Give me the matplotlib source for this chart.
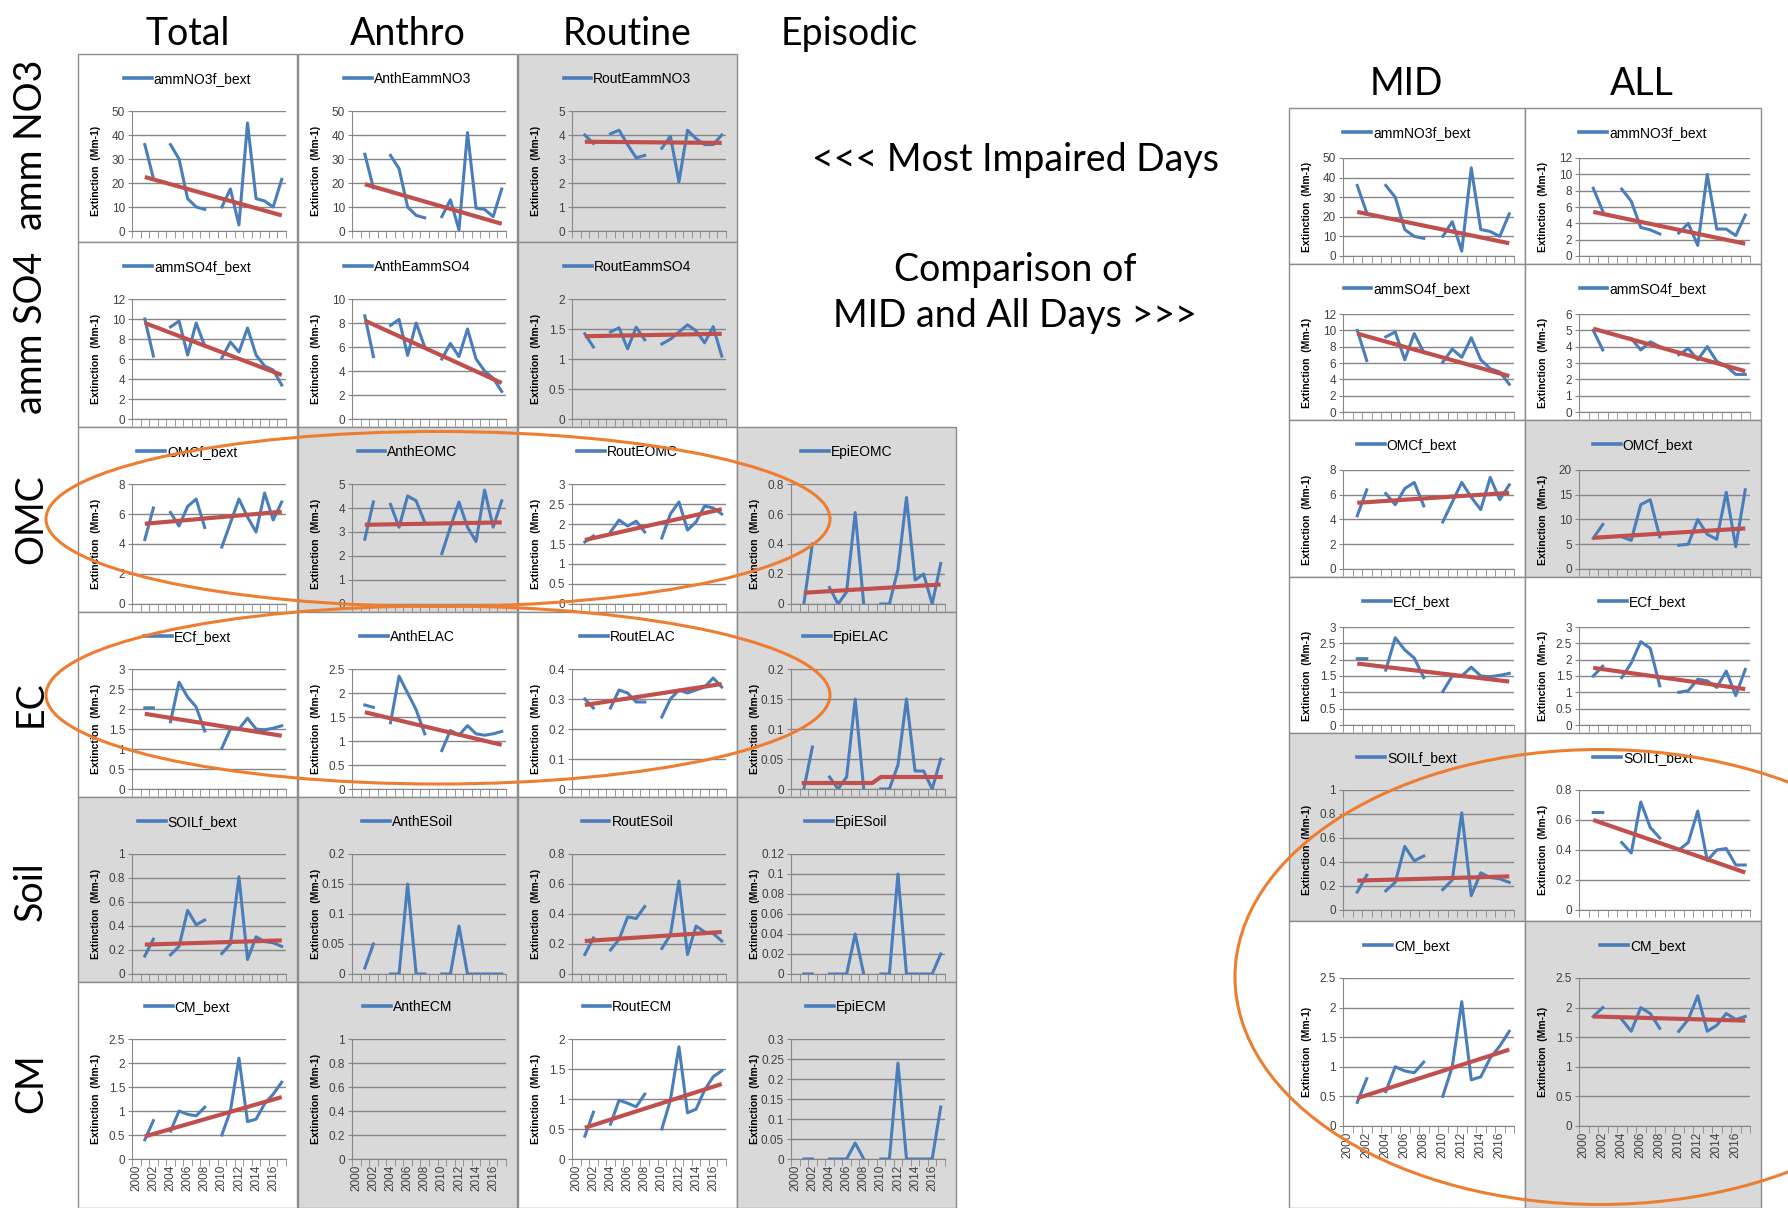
import numpy as np
import matplotlib
matplotlib.use('Agg')
import matplotlib.pyplot as plt
from matplotlib.patches import Rectangle, Ellipse
from matplotlib.lines import Line2D

plt.rcParams['font.family'] = ['Liberation Sans Narrow', 'Liberation Sans', 'DejaVu Sans']

nan = np.nan
# values for 2001..2017 (no data for 2003 and 2009)
years = np.arange(2001, 2018)

# most impaired days, by source type
NO3_tot = [36, 22, nan, 36, 30, 13.5, 10, 9, nan, 10, 17.5, 2.5, 45, 13.5, 12.5, 10, 21.5]
NO3_anth = [32, 18, nan, 31.5, 26, 10, 6.5, 5.5, nan, 6, 13, 0.5, 41, 9.5, 9, 6, 17.5]
NO3_rout = [4.0, 3.65, nan, 4.05, 4.2, 3.6, 3.05, 3.15, nan, 3.45, 3.95, 2.05, 4.2, 3.85, 3.6, 3.6, 4.0]
SO4_tot = [10, 6.3, nan, 9.2, 9.8, 6.4, 9.6, 7.3, nan, 6.1, 7.7, 6.7, 9.1, 6.4, 5.3, 4.9, 3.4]
SO4_anth = [8.6, 5.2, nan, 7.8, 8.3, 5.3, 8.0, 6.0, nan, 5.0, 6.3, 5.2, 7.5, 5.0, 4.0, 3.4, 2.3]
SO4_rout = [1.42, 1.2, nan, 1.45, 1.52, 1.17, 1.53, 1.32, nan, 1.25, 1.33, 1.45, 1.57, 1.47, 1.27, 1.54, 1.05]
OMC_tot = [4.3, 6.4, nan, 6.1, 5.2, 6.5, 7.0, 5.1, nan, 3.8, 5.4, 7.0, 5.8, 4.8, 7.4, 5.6, 6.8]
OMC_anth = [2.7, 4.25, nan, 4.15, 3.2, 4.5, 4.3, 3.4, nan, 2.1, 3.2, 4.25, 3.2, 2.6, 4.75, 3.2, 4.3]
OMC_rout = [1.55, 1.7, nan, 1.8, 2.1, 1.95, 2.07, 1.8, nan, 1.65, 2.25, 2.55, 1.85, 2.05, 2.45, 2.4, 2.25]
OMC_epi = [0, 0.4, nan, 0.11, 0, 0.08, 0.61, 0, nan, 0, 0, 0.23, 0.71, 0.16, 0.2, 0, 0.27]
EC_tot = [2.03, 2.03, nan, 1.68, 2.67, 2.3, 2.05, 1.45, nan, 1.02, 1.5, 1.5, 1.77, 1.5, 1.48, 1.52, 1.58]
EC_anth = [1.75, 1.7, nan, 1.38, 2.35, 2.0, 1.65, 1.15, nan, 0.8, 1.22, 1.12, 1.32, 1.15, 1.12, 1.15, 1.2]
EC_rout = [0.30, 0.27, nan, 0.27, 0.33, 0.32, 0.29, 0.29, nan, 0.24, 0.30, 0.33, 0.32, 0.33, 0.34, 0.37, 0.34]
EC_epi = [0, 0.07, nan, 0.02, 0, 0.02, 0.15, 0, nan, 0, 0, 0.04, 0.15, 0.03, 0.03, 0, 0.05]
SOIL_tot = [0.15, 0.29, nan, 0.16, 0.23, 0.53, 0.41, 0.45, nan, 0.17, 0.25, 0.81, 0.12, 0.31, 0.27, 0.26, 0.23]
SOIL_anth = [0.01, 0.05, nan, 0, 0, 0.15, 0, 0, nan, 0, 0, 0.08, 0, 0, 0, 0, 0]
SOIL_rout = [0.13, 0.24, nan, 0.16, 0.23, 0.38, 0.37, 0.45, nan, 0.17, 0.26, 0.62, 0.13, 0.32, 0.28, 0.27, 0.22]
SOIL_epi = [0, 0, nan, 0, 0, 0, 0.04, 0, nan, 0, 0, 0.10, 0, 0, 0, 0, 0.02]
CM_tot = [0.4, 0.8, nan, 0.58, 1.0, 0.93, 0.9, 1.08, nan, 0.5, 1.0, 2.1, 0.78, 0.83, 1.15, 1.35, 1.6]
CM_anth = [nan] * 17
CM_rout = [0.38, 0.78, nan, 0.58, 0.98, 0.93, 0.87, 1.08, nan, 0.5, 0.98, 1.87, 0.77, 0.83, 1.15, 1.37, 1.47]
CM_epi = [0, 0, nan, 0, 0, 0, 0.04, 0, nan, 0, 0, 0.24, 0, 0, 0, 0, 0.13]

# all days
NO3_all = [8.3, 5.5, nan, 8.2, 6.7, 3.5, 3.2, 2.7, nan, 2.8, 4.0, 1.3, 10.0, 3.3, 3.3, 2.5, 5.0]
SO4_all = [5.0, 3.8, nan, 4.6, 4.5, 3.8, 4.3, 4.0, nan, 3.5, 3.9, 3.2, 4.0, 3.1, 2.8, 2.3, 2.3]
OMC_all = [6.2, 9.0, nan, 6.5, 5.8, 13.0, 14.0, 6.5, nan, 4.8, 5.0, 10.0, 7.0, 6.0, 15.5, 4.5, 16.0]
EC_all = [1.5, 1.8, nan, 1.45, 1.9, 2.55, 2.35, 1.2, nan, 1.0, 1.05, 1.4, 1.35, 1.15, 1.65, 0.9, 1.7]
SOIL_all = [0.65, 0.65, nan, 0.45, 0.38, 0.72, 0.55, 0.48, nan, 0.4, 0.45, 0.66, 0.33, 0.4, 0.41, 0.3, 0.3]
CM_all = [1.85, 2.0, nan, 1.8, 1.6, 2.0, 1.9, 1.65, nan, 1.6, 1.8, 2.2, 1.6, 1.7, 1.9, 1.8, 1.85]

# trend lines: value at 2001 and 2017, or one value per year
tr = {
    'NO3_tot': [22.5, 6.5], 'NO3_anth': [19.5, 3.0], 'NO3_rout': [3.72, 3.67],
    'SO4_tot': [9.6, 4.4], 'SO4_anth': [8.2, 3.0], 'SO4_rout': [1.38, 1.42],
    'OMC_tot': [5.35, 6.15], 'OMC_anth': [3.3, 3.4], 'OMC_rout': [1.6, 2.37], 'OMC_epi': [0.075, 0.13],
    'EC_tot': [1.88, 1.33], 'EC_anth': [1.6, 0.92], 'EC_rout': [0.28, 0.35],
    'EC_epi': [0.01] * 9 + [0.02] * 8,
    'SOIL_tot': [0.245, 0.28], 'SOIL_rout': [0.22, 0.28],
    'CM_tot': [0.47, 1.29], 'CM_rout': [0.52, 1.25],
    'NO3_all': [5.4, 1.5], 'SO4_all': [5.1, 2.5], 'OMC_all': [6.3, 8.2],
    'EC_all': [1.75, 1.1], 'SOIL_all': [0.6, 0.25], 'CM_all': [1.85, 1.78],
}

W, H = 1788, 1208
fig = plt.figure(figsize=(W / 100, H / 100), dpi=100)
BLUE = '#4a7ebb'
RED = '#c0504d'
GREY = '#d9d9d9'
EDGE = '#8c8c8c'
GRID = '#868686'


def fbox(x, y, w, h):
    return [x / W, 1 - (y + h) / H, w / W, h / H]


def panel(x, y, w, h, bg, name, vals, trend, ymax, ystep, years_on=False, ax_top=57, ax_h=120):
    fig.add_artist(Rectangle((x / W, 1 - (y + h) / H), w / W, h / H, transform=fig.transFigure,
                             fc=bg, ec=EDGE, lw=1, zorder=-2))
    aw = w - 65
    ax = fig.add_axes(fbox(x + 54, y + ax_top, aw, ax_h))
    ax.set_facecolor('none')
    xi = years - 2000
    ax.plot(xi, vals, color=BLUE, lw=2.2, zorder=3)
    if trend is not None:
        if len(trend) == 2:
            ax.plot([1, 17], trend, color=RED, lw=3, zorder=4, solid_capstyle='butt')
        else:
            ax.plot(xi, trend, color=RED, lw=3, zorder=4)
    ax.set_xlim(-0.5, 17.5)
    ax.set_ylim(0, ymax)
    ax.set_yticks(np.arange(0, ymax + ystep / 2, ystep))
    ax.set_yticklabels(['%g' % round(v, 3) for v in ax.get_yticks()])
    ax.yaxis.grid(True, color=GRID, lw=1)
    ax.set_axisbelow(True)
    for s in ['top', 'right']:
        ax.spines[s].set_visible(False)
    for s in ['left', 'bottom']:
        ax.spines[s].set_color(GRID)
    ax.tick_params(axis='y', length=3, color=GRID, labelsize=8.5, labelcolor='#404040', pad=2)
    ax.set_xticks(np.arange(-0.5, 18, 1), minor=True)
    ax.tick_params(axis='x', which='minor', length=5, color=GRID)
    if years_on:
        ax.set_xticks(np.arange(0, 18))
        ax.set_xticklabels([str(2000 + i) if i % 2 == 0 else '' for i in range(18)],
                           rotation=90, fontsize=8.5, color='#404040')
        ax.tick_params(axis='x', which='major', length=0, pad=4)
    else:
        ax.set_xticks([])
    ax.set_ylabel('Extinction  (Mm-1)', fontsize=7.5, fontweight='bold',
                  family=['Liberation Sans', 'DejaVu Sans'])
    ax.yaxis.set_label_coords(-31 / aw, 0.5)
    h1 = Line2D([], [], color=BLUE, lw=2.6)
    ax.legend([h1], [name], loc='center', frameon=False, fontsize=10,
              handlelength=2.0, handletextpad=0.15,
              bbox_to_anchor=((x + w / 2) / W, 1 - (y + 25) / H),
              bbox_transform=fig.transFigure)
    return ax


# left grid
col_x = [78, 298, 518, 737]
row_y = [54, 242, 427, 612, 797, 982]
cw = 219
rh = [188, 185, 185, 185, 185, 226]
rows = ['NO3', 'SO4', 'OMC', 'EC', 'SOIL', 'CM']
names = {
    'NO3': ['ammNO3f_bext', 'AnthEammNO3', 'RoutEammNO3', None],
    'SO4': ['ammSO4f_bext', 'AnthEammSO4', 'RoutEammSO4', None],
    'OMC': ['OMCf_bext', 'AnthEOMC', 'RoutEOMC', 'EpiEOMC'],
    'EC': ['ECf_bext', 'AnthELAC', 'RoutELAC', 'EpiELAC'],
    'SOIL': ['SOILf_bext', 'AnthESoil', 'RoutESoil', 'EpiESoil'],
    'CM': ['CM_bext', 'AnthECM', 'RoutECM', 'EpiECM'],
}
series = {
    'NO3': [NO3_tot, NO3_anth, NO3_rout, None],
    'SO4': [SO4_tot, SO4_anth, SO4_rout, None],
    'OMC': [OMC_tot, OMC_anth, OMC_rout, OMC_epi],
    'EC': [EC_tot, EC_anth, EC_rout, EC_epi],
    'SOIL': [SOIL_tot, SOIL_anth, SOIL_rout, SOIL_epi],
    'CM': [CM_tot, CM_anth, CM_rout, CM_epi],
}
scales = {
    'NO3': [(50, 10), (50, 10), (5, 1), None],
    'SO4': [(12, 2), (10, 2), (2, 0.5), None],
    'OMC': [(8, 2), (5, 1), (3, 0.5), (0.8, 0.2)],
    'EC': [(3, 0.5), (2.5, 0.5), (0.4, 0.1), (0.2, 0.05)],
    'SOIL': [(1, 0.2), (0.2, 0.05), (0.8, 0.2), (0.12, 0.02)],
    'CM': [(2.5, 0.5), (1, 0.2), (2, 0.5), (0.3, 0.05)],
}
shade = {
    'NO3': [0, 0, 1, 0], 'SO4': [0, 0, 1, 0], 'OMC': [0, 1, 0, 1],
    'EC': [0, 0, 0, 1], 'SOIL': [1, 1, 1, 1], 'CM': [0, 1, 0, 1],
}
kinds = ['tot', 'anth', 'rout', 'epi']

for r, key in enumerate(rows):
    for c in range(4):
        if names[key][c] is None:
            continue
        ymax, ystep = scales[key][c]
        panel(col_x[c], row_y[r], cw, rh[r], GREY if shade[key][c] else 'white',
              names[key][c], series[key][c], tr.get(key + '_' + kinds[c]),
              ymax, ystep, years_on=(r == 5))

# right grid: MID and ALL days
rcol_x = [1289, 1525]
rrow_y = [108, 264, 420, 577, 733, 921]
rrh = [156, 156, 157, 156, 188, 287]
rax_top = [50, 50, 50, 50, 57, 57]
rax_h = [98, 98, 99, 98, 120, 148]
mid = {'NO3': ('ammNO3f_bext', NO3_tot, (50, 10)), 'SO4': ('ammSO4f_bext', SO4_tot, (12, 2)),
       'OMC': ('OMCf_bext', OMC_tot, (8, 2)), 'EC': ('ECf_bext', EC_tot, (3, 0.5)),
       'SOIL': ('SOILf_bext', SOIL_tot, (1, 0.2)), 'CM': ('CM_bext', CM_tot, (2.5, 0.5))}
alld = {'NO3': ('ammNO3f_bext', NO3_all, (12, 2)), 'SO4': ('ammSO4f_bext', SO4_all, (6, 1)),
        'OMC': ('OMCf_bext', OMC_all, (20, 5)), 'EC': ('ECf_bext', EC_all, (3, 0.5)),
        'SOIL': ('SOILf_bext', SOIL_all, (0.8, 0.2)), 'CM': ('CM_bext', CM_all, (2.5, 0.5))}
rshade_mid = [0, 0, 0, 0, 1, 0]
rshade_all = [0, 0, 1, 0, 0, 1]
for r, key in enumerate(rows):
    nm, v, (ym, ys) = mid[key]
    panel(rcol_x[0], rrow_y[r], 236, rrh[r], GREY if rshade_mid[r] else 'white', nm, v,
          tr[key + '_tot'], ym, ys, years_on=(r == 5), ax_top=rax_top[r], ax_h=rax_h[r])
    nm, v, (ym, ys) = alld[key]
    panel(rcol_x[1], rrow_y[r], 236, rrh[r], GREY if rshade_all[r] else 'white', nm, v,
          tr[key + '_all'], ym, ys, years_on=(r == 5), ax_top=rax_top[r], ax_h=rax_h[r])

# headings
big = dict(fontsize=27, family=['Lato', 'DejaVu Sans'], ha='center', va='center')
for lab, cx in zip(['Total', 'Anthro', 'Routine', 'Episodic'], [188, 408, 627, 849]):
    fig.text(cx / W, 1 - 34 / H, lab, **big)
for lab, cx in zip(['MID', 'ALL'], [1406, 1642]):
    fig.text(cx / W, 1 - 84 / H, lab, **big)
for lab, cy in zip(['amm NO3', 'amm SO4', 'OMC', 'EC', 'Soil', 'CM'], [145, 333, 519, 704, 891, 1083]):
    fig.text(31 / W, 1 - cy / H, lab, rotation=90, **big)
fig.text(1015 / W, 1 - 160 / H, '<<< Most Impaired Days', **big)
fig.text(1015 / W, 1 - 270 / H, 'Comparison of', **big)
fig.text(1015 / W, 1 - 316 / H, 'MID and All Days >>>', **big)

# orange ellipses
ORANGE = '#ed7d31'
for cx, cy, ew, eh in [(438, 519, 784, 175), (438, 695, 784, 178), (1600, 977, 730, 455)]:
    fig.add_artist(Ellipse((cx / W, 1 - cy / H), ew / W, eh / H, transform=fig.transFigure,
                           fill=False, ec=ORANGE, lw=2.2, zorder=10))

fig.savefig('out.png', dpi=100)
